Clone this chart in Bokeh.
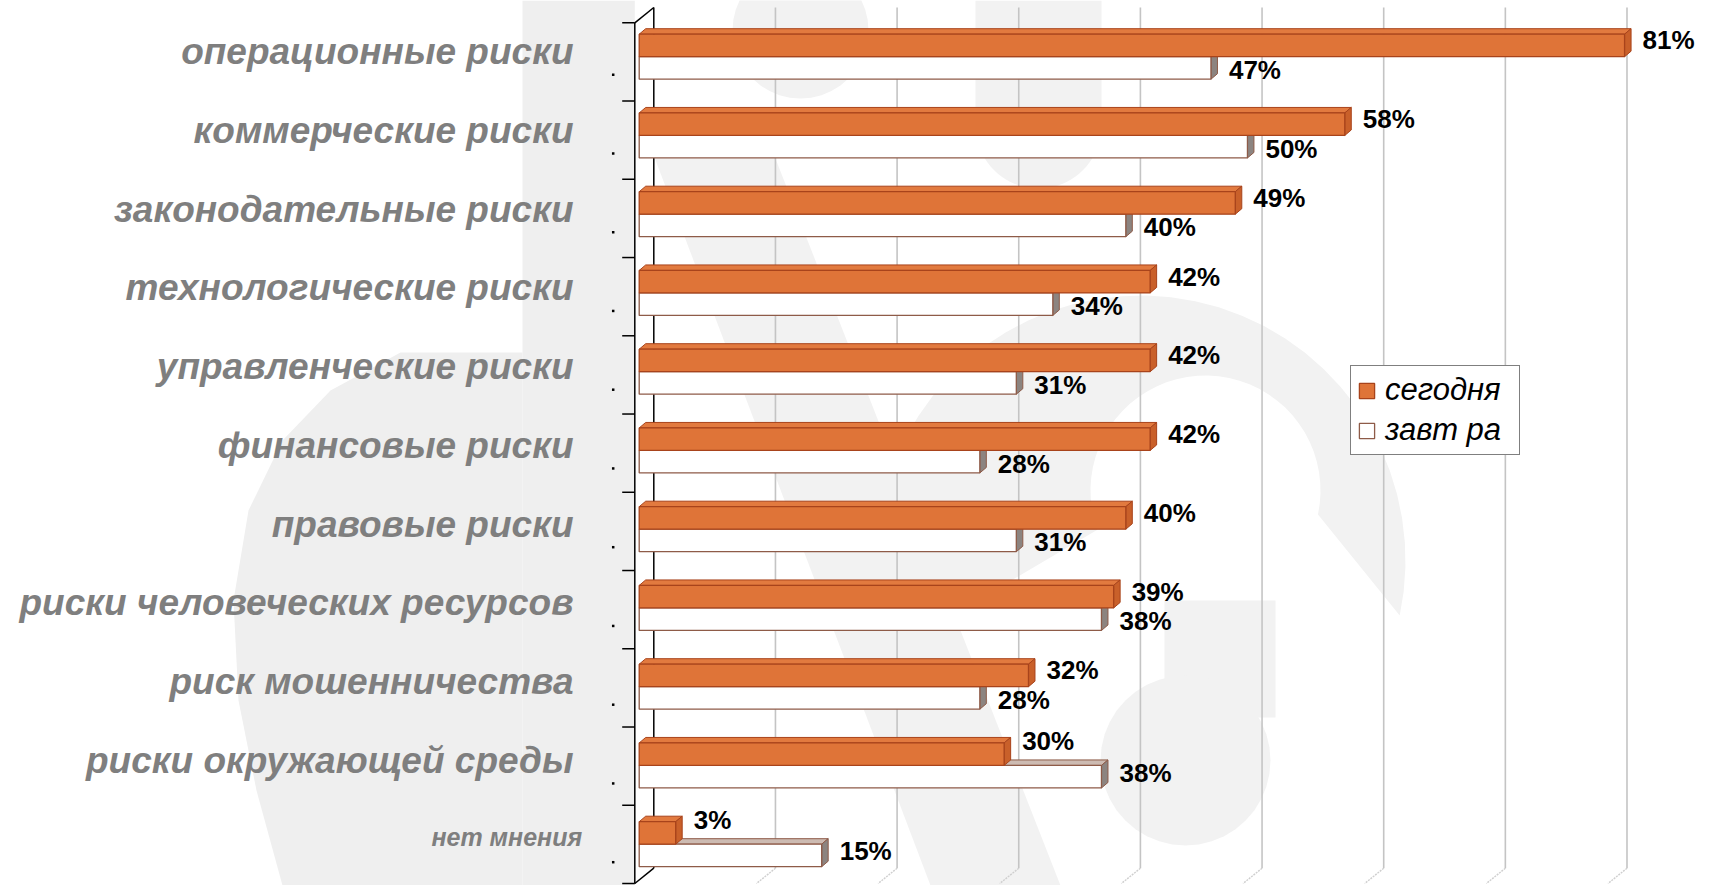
import math
from bokeh.plotting import figure
from bokeh.models import Range1d, ColumnDataSource, Legend, LegendItem
from bokeh.embed import file_html
from bokeh.resources import INLINE
from bokeh.core.properties import value

# ---------------- data ----------------
categories = [
    "операционные риски",
    "коммерческие риски",
    "законодательные риски",
    "технологические риски",
    "управленческие риски",
    "финансовые риски",
    "правовые риски",
    "риски человеческих ресурсов",
    "риск мошенничества",
    "риски окружающей среды",
    "нет мнения",
]
today = [81, 58, 49, 42, 42, 42, 40, 39, 32, 30, 3]
tomorrow = [47, 50, 40, 34, 31, 28, 31, 38, 28, 38, 15]
series_names = ["сегодня", "завт ра"]
grid_values = [10, 20, 30, 40, 50, 60, 70, 80]

# ---------------- layout constants (screen px) ----------------
W, H = 1735, 885
X0 = 638.7          # x of 0 %
PX_PCT = 12.165     # px per percent
Y0 = 56.2           # y (from top) of first category centre
PX_ROW = 78.75      # px per category


def dxp(px):
    return px / PX_PCT


def dyp(px):
    return px / PX_ROW


def px_x(a):
    return (a - X0) / PX_PCT


def px_y(b):
    return (b - Y0) / PX_ROW


x_range = Range1d(-X0 / PX_PCT, (W - X0) / PX_PCT)
y_range = Range1d((H - Y0) / PX_ROW, -Y0 / PX_ROW)   # y grows downward

p = figure(width=W, height=H, x_range=x_range, y_range=y_range,
           output_backend="svg", toolbar_location=None, min_border=0,
           background_fill_color="white", border_fill_color="white",
           outline_line_color=None)
p.xaxis.visible = False
p.yaxis.visible = False
p.xgrid.grid_line_color = None
p.ygrid.grid_line_color = None

n = len(categories)
rows = list(range(n))
BH = dyp(22.5)                 # bar thickness
DX, DY = dxp(6.5), dyp(5.5)    # bar depth
AXF = dxp(-4.4)                # front axis line
WDX, WDY = dxp(19), dyp(15.3)  # wall depth
AX_TOP, AX_BOT = px_y(22.3), px_y(883)
TXT_SHIFT = -9                 # screen px correction for text placement

# ---------------- watermark (light background logo) ----------------
wm = "#efefef"
wm2 = "#f2f2f2"
p.quad(left=[px_x(522)], right=[AXF], top=[y_range.end], bottom=[y_range.start],
       fill_color=wm, line_color=None)
wx = [400, 330, 282, 248, 233, 238, 256, 282, 522, 522]
wy = [352, 390, 440, 510, 600, 700, 790, 885, 885, 352]
p.patch([px_x(a) for a in wx], [px_y(b) for b in wy], fill_color=wm, line_color=None)


def arc_pts(cx, cy, r, a0, a1, k=40):
    return [(cx + r * math.cos(math.radians(a0 + (a1 - a0) * i / k)),
             cy - r * math.sin(math.radians(a0 + (a1 - a0) * i / k))) for i in range(k + 1)]


shapes = []
# small disc at the top
shapes.append(arc_pts(800, 30, 68, 0, 360))
# rounded column at the top
col = [(975, 0), (1101, 0)] + arc_pts(1038, 125, 63, 0, -180)
shapes.append(col)
# big ring ("C") on the right
outer = arc_pts(1140, 560, 265, 200, -12)
inner = arc_pts(1205, 490, 115, -12, 200)
shapes.append(outer + inner)
# diagonal swath
shapes.append([(640, 120), (760, 120), (1060, 885), (930, 885)])
# L-shaped stroke and lower disc
shapes.append([(1164, 600), (1275, 600), (1275, 717), (1164, 717)])
shapes.append(arc_pts(1185, 760, 85, 0, 360))
p.patches([[px_x(a) for a, b in s] for s in shapes], [[px_y(b) for a, b in s] for s in shapes],
          fill_color=wm2, line_color=None)

# ---------------- walls / grid ----------------
gx = [g + AXF + WDX for g in grid_values]
ng = len(grid_values)
p.segment(gx, [AX_TOP - WDY] * ng, gx, [AX_BOT - WDY] * ng, line_color="#c4c4c4", line_width=1.6)
p.segment(gx, [AX_BOT - WDY] * ng, [g + AXF for g in grid_values], [AX_BOT] * ng,
          line_color="#cfcfcf", line_width=1.4, line_dash="2 1")

# axis lines (front + back wall + diagonals)
p.segment([AXF, AXF + WDX, AXF, AXF], [AX_TOP, AX_TOP - WDY, AX_TOP, AX_BOT],
          [AXF, AXF + WDX, AXF + WDX, AXF + WDX], [AX_BOT, AX_BOT - WDY, AX_TOP - WDY, AX_BOT - WDY],
          line_color="black", line_width=1.5)
nt = n + 1
tick_y = [AX_TOP + k * (AX_BOT - AX_TOP) / n for k in range(nt)]
p.segment([AXF - dxp(12.6)] * nt, tick_y, [AXF] * nt, tick_y, line_color="black", line_width=1.5)
p.scatter([AXF - dxp(21.6)] * n, [r + dyp(18) for r in rows], marker="square", size=2.5,
          fill_color="black", line_color=None)

# ---------------- 3D bars ----------------
o_line = "#a8431b"
w_line = "#8e5b48"

p.patches([[0, w, w + DX, DX] for w in tomorrow],
          [[r, r, r - DY, r - DY] for r in rows],
          fill_color="#cdbbb2", line_color=w_line, line_width=1)
p.patches([[w, w + DX, w + DX, w] for w in tomorrow],
          [[r, r - DY, r + BH - DY, r + BH] for r in rows],
          fill_color="#8c8480", line_color=w_line, line_width=1)

src_w = ColumnDataSource(dict(y=[r + BH / 2 for r in rows], right=tomorrow))
r_w = p.hbar(y="y", left=0, right="right", height=BH, source=src_w,
             fill_color="white", line_color=w_line, line_width=1.3)

p.patches([[0, v, v + DX, DX] for v in today],
          [[r - BH, r - BH, r - BH - DY, r - BH - DY] for r in rows],
          fill_color="#e27a3f", line_color=o_line, line_width=1)
p.patches([[v, v + DX, v + DX, v] for v in today],
          [[r - BH, r - BH - DY, r - DY, r] for r in rows],
          fill_color="#c9602a", line_color=o_line, line_width=1)

src_o = ColumnDataSource(dict(y=[r - BH / 2 for r in rows], right=today))
r_o = p.hbar(y="y", left=0, right="right", height=BH, source=src_o,
             fill_color="#df7438", line_color=o_line, line_width=1.3)

# ---------------- value labels ----------------
o_yoff = [(4 if a >= b else -4) + TXT_SHIFT for a, b in zip(today, tomorrow)]
w_yoff = [(11 if a >= b else 5) + TXT_SHIFT for a, b in zip(today, tomorrow)]
src_lo = ColumnDataSource(dict(x=today, y=[r - BH / 2 for r in rows],
                               t=[f"{v}%" for v in today], yo=o_yoff))
p.text(x="x", y="y", text="t", source=src_lo, x_offset=18, y_offset="yo",
       text_font=value("Liberation Sans"), text_font_style="bold", text_font_size="26px",
       text_color="black", text_baseline="alphabetic", text_align="left")
src_lw = ColumnDataSource(dict(x=tomorrow, y=[r + BH / 2 for r in rows],
                               t=[f"{v}%" for v in tomorrow], yo=w_yoff))
p.text(x="x", y="y", text="t", source=src_lw, x_offset=18, y_offset="yo",
       text_font=value("Liberation Sans"), text_font_style="bold", text_font_size="26px",
       text_color="black", text_baseline="alphabetic", text_align="left")

# ---------------- category labels ----------------
sizes = ["37px"] * (n - 1) + ["25px"]
xoffs = [-65.7] * (n - 1) + [-57.0]
yoffs = [4.0 + TXT_SHIFT] * (n - 1) + [1.5 + TXT_SHIFT]
src_c = ColumnDataSource(dict(x=[0] * n, y=rows, t=categories, fs=sizes, xo=xoffs, yo=yoffs))
p.text(x="x", y="y", text="t", source=src_c, x_offset="xo", y_offset="yo",
       text_font=value("Liberation Sans"), text_font_style="bold italic", text_font_size="fs",
       text_color="#7f7f7f", text_baseline="alphabetic", text_align="right")

# ---------------- legend ----------------
legend = Legend(items=[LegendItem(label=series_names[0], renderers=[r_o]),
                       LegendItem(label=series_names[1], renderers=[r_w])],
                location=(1350, 430), orientation="vertical",
                glyph_width=19, glyph_height=19, label_standoff=9, padding=6, spacing=4,
                label_height=20, label_width=128, label_text_font="Liberation Sans",
                label_text_font_style="italic",
                label_text_font_size="31px", label_text_color="black",
                border_line_color="black", border_line_width=1.5,
                background_fill_color="white", background_fill_alpha=1.0, margin=0)
p.add_layout(legend)

open("out.html", "w").write(file_html(p, INLINE))
